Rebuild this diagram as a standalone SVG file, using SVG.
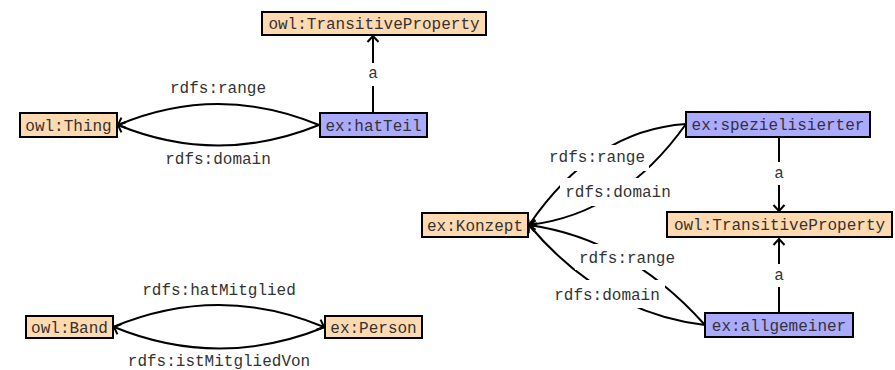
<svg xmlns="http://www.w3.org/2000/svg" width="895" height="370" viewBox="0 0 895 370">
  <defs>
    <marker id="arrow" markerUnits="userSpaceOnUse" markerWidth="14" markerHeight="14" viewBox="-8 -7 10 14" refX="0" refY="0" orient="auto" overflow="visible">
      <path d="M-6,-5.5 L0,0 L-6,5.5" fill="none" stroke="#000" stroke-width="2" stroke-linejoin="miter"/>
    </marker>
    <style>
      .edge { fill: none; stroke: #000; stroke-width: 2; marker-end: url(#arrow); }
      .node rect { stroke: #000; stroke-width: 2; }
      .cls rect { fill: #ffd9b0; }
      .prop rect { fill: #aaaaff; }
      .node text, .label text { font-family: "Liberation Mono", "Courier New", monospace; font-size: 16px; fill: #333; text-anchor: middle; }
      .label rect { fill: #fff; }
    </style>
  </defs>

  <!-- connectors -->
  <g id="connectors">
    <path class="edge" d="M373,113 L373,36"/>
    <path class="edge" d="M319,125 Q218,83 118,125"/>
    <path class="edge" d="M319,125 Q218,166 118,125"/>

    <path class="edge" d="M779,137 L779,211"/>
    <path class="edge" d="M779,313 L779,239"/>
    <path class="edge" d="M686,124 Q594,130 529,225"/>
    <path class="edge" d="M686,124 Q622,214 529,225"/>
    <path class="edge" d="M705,325 Q628,239 529,225"/>
    <path class="edge" d="M705,325 Q603,313 529,225"/>

    <path class="edge" d="M113,327 Q219,283 324,327"/>
    <path class="edge" d="M325,327 Q219,370 114,327"/>
  </g>

  <!-- edge labels -->
  <g id="labels">
    <g class="label"><rect x="366" y="63" width="14" height="23"/><text x="373" y="78">a</text></g>
    <g class="label"><rect x="166" y="76" width="104" height="22"/><text x="218" y="93">rdfs:range</text></g>
    <g class="label"><rect x="160" y="148" width="116" height="22"/><text x="218" y="164">rdfs:domain</text></g>

    <g class="label"><rect x="772" y="162" width="14" height="23"/><text x="779" y="178">a</text></g>
    <g class="label"><rect x="772" y="264" width="14" height="23"/><text x="779" y="280">a</text></g>
    <g class="label"><rect x="545" y="145" width="104" height="26"/><text x="597" y="162">rdfs:range</text></g>
    <g class="label"><rect x="560" y="178" width="116" height="28"/><text x="618" y="197">rdfs:domain</text></g>
    <g class="label"><rect x="575" y="244" width="104" height="26"/><text x="627" y="263">rdfs:range</text></g>
    <g class="label"><rect x="549" y="280" width="116" height="28"/><text x="607" y="300">rdfs:domain</text></g>

    <g class="label"><rect x="138" y="278" width="162" height="22"/><text x="219" y="295">rdfs:hatMitglied</text></g>
    <g class="label"><rect x="124" y="350" width="190" height="20"/><text x="219" y="366">rdfs:istMitgliedVon</text></g>
  </g>

  <!-- nodes -->
  <g id="tp1" class="node cls"><rect x="262" y="12" width="224" height="23"/><text x="374" y="29">owl:TransitiveProperty</text></g>
  <g id="thing" class="node cls"><rect x="20" y="113" width="97" height="24"/><text x="68.5" y="130.5">owl:Thing</text></g>
  <g id="hatTeil" class="node prop"><rect x="320" y="113" width="107" height="24"/><text x="373.5" y="130.5">ex:hatTeil</text></g>

  <g id="spezielisierter" class="node prop"><rect x="686" y="112" width="184" height="25"/><text x="778" y="130">ex:spezielisierter</text></g>
  <g id="tp2" class="node cls"><rect x="667" y="212" width="225" height="25"/><text x="779.5" y="230">owl:TransitiveProperty</text></g>
  <g id="konzept" class="node cls"><rect x="422" y="213" width="106" height="24"/><text x="475" y="230.5">ex:Konzept</text></g>
  <g id="allgemeiner" class="node prop"><rect x="705" y="313" width="148" height="24"/><text x="779" y="330.5">ex:allgemeiner</text></g>

  <g id="band" class="node cls"><rect x="26" y="316" width="87" height="22"/><text x="69.5" y="332.5">owl:Band</text></g>
  <g id="person" class="node cls"><rect x="325" y="316" width="97" height="22"/><text x="373.5" y="332.5">ex:Person</text></g>
</svg>
